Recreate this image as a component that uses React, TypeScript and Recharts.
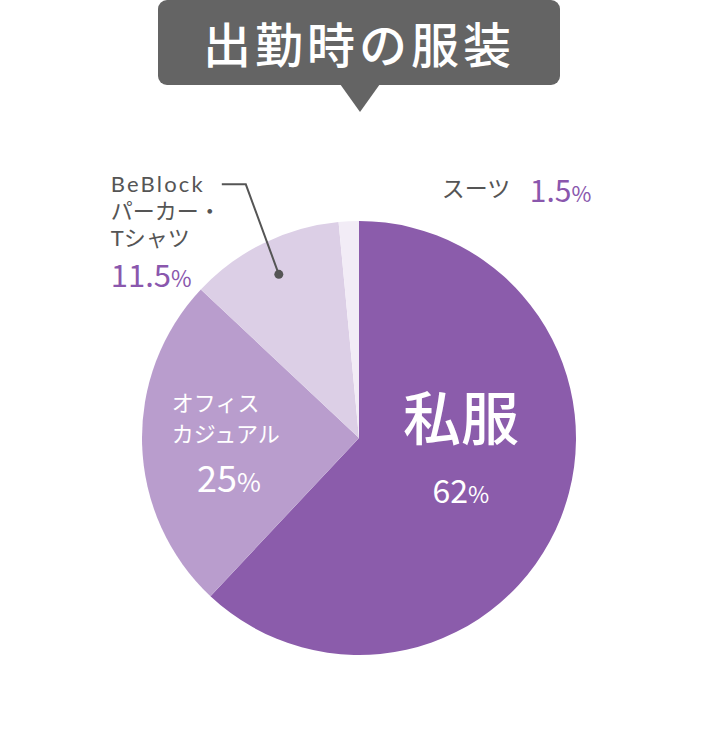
import { PieChart, Pie, Cell } from "recharts";

const NAMES = ["私服", "オフィスカジュアル", "BeBlockパーカー・Tシャツ", "スーツ"];
const VALUES = [62, 25, 11.5, 1.5];
const COLORS = ["#8b5cab", "#b99dcd", "#dccfe6", "#f2ecf6"];
const TITLE = "出勤時の服装";

const RADIAN = Math.PI / 180;
const FONT = "'Noto Sans CJK JP', 'Noto Sans', sans-serif";
const TIGHT = "Lato, 'Noto Sans CJK JP', sans-serif";
const GRAY = "#555555";
const PURPLE = "#8a57ad";

const data = NAMES.map((name, i) => ({ name, value: VALUES[i] }));

function Pct({ v, size }: { v: number; size: number }) {
  return (
    <>
      {v}
      <tspan fontSize={size * 0.72}>%</tspan>
    </>
  );
}

function renderLabel(props: any) {
  const { cx, cy, midAngle, outerRadius, index } = props;
  const at = (k: number) => ({
    x: cx + outerRadius * k * Math.cos(-midAngle * RADIAN),
    y: cy + outerRadius * k * Math.sin(-midAngle * RADIAN),
  });
  const v = VALUES[index];

  if (index === 0) {
    const p = at(0.54);
    return (
      <g fontFamily={FONT} fill="#fff" textAnchor="middle">
        <text x={p.x - 7} y={p.y - 41} fontSize={58} fontWeight={500}>
          私服
        </text>
        <text x={p.x - 7} y={p.y + 22} fontSize={32}>
          <Pct v={v} size={32} />
        </text>
      </g>
    );
  }
  if (index === 1) {
    const p = at(0.6);
    return (
      <g fontFamily={FONT} fill="#fff">
        <text x={p.x - 57} y={p.y - 31} fontSize={22}>
          オフィス
        </text>
        <text x={p.x - 57} y={p.y} fontSize={22}>
          カジュアル
        </text>
        <text x={p.x} y={p.y + 50} fontSize={36} textAnchor="middle">
          <Pct v={v} size={36} />
        </text>
      </g>
    );
  }
  if (index === 2) {
    const p = at(0.84);
    return (
      <g fontFamily={TIGHT}>
        <polyline
          points={`${p.x},${p.y} ${p.x - 33},${p.y - 90} ${p.x - 57},${p.y - 90}`}
          fill="none"
          stroke={GRAY}
          strokeWidth={2}
        />
        <circle cx={p.x} cy={p.y} r={4.5} fill={GRAY} />
        <text x={p.x - 168} y={p.y - 82} fontSize={22} fill={GRAY} letterSpacing={2.2}>
          BeBlock
        </text>
        <text x={p.x - 168} y={p.y - 55} fontSize={22} fill={GRAY}>
          パーカー・
        </text>
        <text x={p.x - 168} y={p.y - 28} fontSize={22} fill={GRAY}>
          Tシャツ
        </text>
        <text x={p.x - 168} y={p.y + 13} fontSize={31} fill={PURPLE} fontFamily={FONT}>
          <Pct v={v} size={31} />
        </text>
      </g>
    );
  }
  const p = at(1);
  return (
    <g fontFamily={FONT}>
      <text x={p.x + 93} y={p.y - 24} fontSize={23} fill={GRAY}>
        スーツ
      </text>
      <text x={p.x + 181} y={p.y - 19} fontSize={30} fill={PURPLE}>
        <Pct v={v} size={30} />
      </text>
    </g>
  );
}

export default function App() {
  return (
    <div
      style={{
        position: "absolute",
        left: 0,
        top: 0,
        width: 720,
        height: 755,
        background: "#fff",
        fontFamily: FONT,
      }}
    >
      <div
        style={{
          position: "absolute",
          left: 158,
          top: 0,
          width: 402,
          height: 85,
          background: "#646464",
          borderRadius: 9,
          color: "#fff",
          fontSize: 48,
          fontWeight: 500,
          letterSpacing: 4,
          lineHeight: "85px",
          textAlign: "center",
        }}
      >
        {TITLE}
      </div>
      <svg
        style={{ position: "absolute", left: 339, top: 84 }}
        width={42}
        height={30}
      >
        <polygon points="1,0 41,0 21,28" fill="#646464" />
      </svg>
      <div style={{ position: "absolute", left: 0, top: 0 }}>
        <PieChart width={720} height={755} margin={{ top: 0, right: 0, bottom: 0, left: 0 }}>
          <Pie
            data={data}
            dataKey="value"
            nameKey="name"
            cx={359}
            cy={438}
            outerRadius={217}
            startAngle={90}
            endAngle={-270}
            stroke="none"
            label={renderLabel}
            labelLine={false}
            isAnimationActive={false}
          >
            {data.map((_, i) => (
              <Cell key={i} fill={COLORS[i]} />
            ))}
          </Pie>
        </PieChart>
      </div>
    </div>
  );
}
